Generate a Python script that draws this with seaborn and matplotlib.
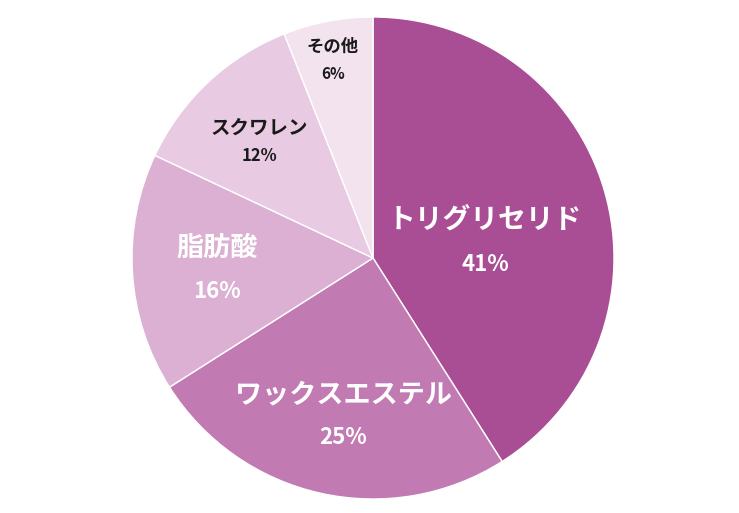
import matplotlib
matplotlib.use("Agg")
import matplotlib.pyplot as plt
import seaborn as sns

sns.set_theme(style="white")
plt.rcParams['font.family'] = ['Noto Sans CJK JP', 'DejaVu Sans']

labels = ["トリグリセリド", "ワックスエステル", "脂肪酸", "スクワレン", "その他"]
values = [41, 25, 16, 12, 6]
colors = ["#A94D94", "#C27AB3", "#DBB0D3", "#E8CAE2", "#F3E3EF"]
text_colors = ["white", "white", "white", "#1a1a1a", "#1a1a1a"]
name_sizes = [20, 19.5, 19.5, 14, 12.5]
pct_sizes = [16, 16, 16, 12, 11]
# label anchor positions in pie units (name, pct)
name_pos = [(0.465, 0.158), (-0.124, -0.568), (-0.647, 0.041), (-0.473, 0.539), (-0.166, 0.876)]
pct_pos = [(0.465, -0.029), (-0.124, -0.743), (-0.647, -0.141), (-0.473, 0.423), (-0.166, 0.763)]

fig = plt.figure(figsize=(7.39, 5.13), dpi=100)
cx, cy, r = 373, 258, 241
W, H = 739, 513
ax = fig.add_axes([(cx - r) / W, (H - cy - r) / H, 2 * r / W, 2 * r / H])
ax.pie(values, colors=colors, startangle=90, counterclock=False, radius=1,
       wedgeprops=dict(edgecolor="white", linewidth=1.0))
ax.set_xlim(-1, 1)
ax.set_ylim(-1, 1)
ax.set_aspect("auto")
ax.axis("off")

for i, lab in enumerate(labels):
    ax.text(*name_pos[i], lab, ha="center", va="center", color=text_colors[i],
            fontsize=name_sizes[i], fontweight="bold")
    ax.text(*pct_pos[i], f"{values[i]}%", ha="center", va="center", color=text_colors[i],
            fontsize=pct_sizes[i], fontweight="bold")

fig.savefig("out.png", dpi=100)
